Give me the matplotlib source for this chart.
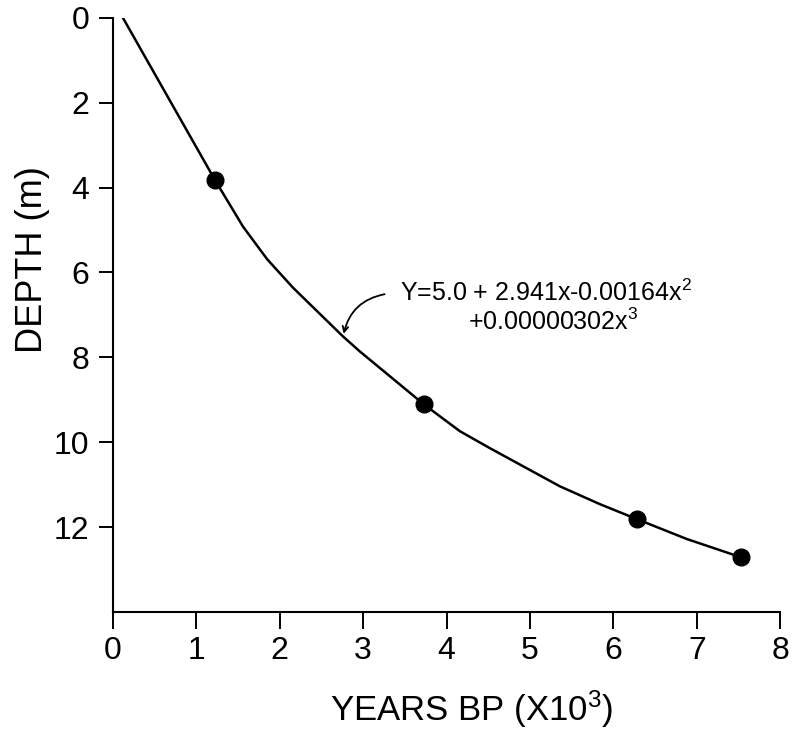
import matplotlib

matplotlib.use("Agg")
import matplotlib.pyplot as plt  # noqa: E402

plt.rcParams["font.family"] = ["Liberation Sans", "DejaVu Sans"]
plt.rcParams["mathtext.fontset"] = "custom"
plt.rcParams["mathtext.rm"] = "Liberation Sans"

# dated samples (years BP x10^3, depth m)
age_pts = [1.22, 3.73, 6.28, 7.53]
depth_pts = [3.81, 9.11, 11.81, 12.71]

# fitted curve
curve_age = [0.12, 1.22, 1.56, 1.85, 2.16, 2.76, 2.96, 3.73, 4.16, 4.52, 5.36, 5.84, 6.28, 6.88, 7.53]
curve_depth = [0.0, 3.81, 4.92, 5.69, 6.36, 7.51, 7.86, 9.11, 9.74, 10.14, 11.04, 11.46, 11.81, 12.28, 12.71]

x_ticks = [0, 1, 2, 3, 4, 5, 6, 7, 8]
y_ticks = [0, 2, 4, 6, 8, 10, 12]

fig = plt.figure(figsize=(8.01, 7.29), dpi=100)
ax = fig.add_axes([0.141, 0.1605, 0.833, 0.815])

ax.plot(curve_age, curve_depth, color="black", lw=1.8, zorder=2)
ax.plot(age_pts, depth_pts, "o", color="black", ms=12, zorder=3)

ax.set_xlim(0, 8)
ax.set_ylim(14, 0)
ax.set_xticks(x_ticks)
ax.set_yticks(y_ticks)

for s in ("top", "right"):
    ax.spines[s].set_visible(False)
for s in ("left", "bottom"):
    ax.spines[s].set_linewidth(1.5)

ax.tick_params(axis="x", direction="out", length=12, width=1.4, pad=5, labelsize=23)
ax.tick_params(axis="y", direction="out", length=10, width=1.4, pad=7, labelsize=23)

ax.set_xlabel("YEARS BP (X10$\\mathregular{^{3}}$)", fontsize=25)
ax.set_ylabel("DEPTH (m)", fontsize=26)
ax.xaxis.set_label_coords(0.537, -0.128)
ax.yaxis.set_label_coords(-0.094, 0.593)

ax.text(3.44, 6.68, "Y=5.0 + 2.941x-0.00164x$\\mathregular{^{2}}$", fontsize=18,
        ha="left", va="baseline")
ax.text(4.26, 7.36, "+0.00000302x$\\mathregular{^{3}}$", fontsize=18,
        ha="left", va="baseline")
ax.annotate("", xy=(2.76, 7.51), xytext=(3.29, 6.5),
            arrowprops=dict(arrowstyle="->", color="black", lw=1.3,
                            connectionstyle="arc3,rad=0.35"))

fig.savefig("out.png", dpi=100)
